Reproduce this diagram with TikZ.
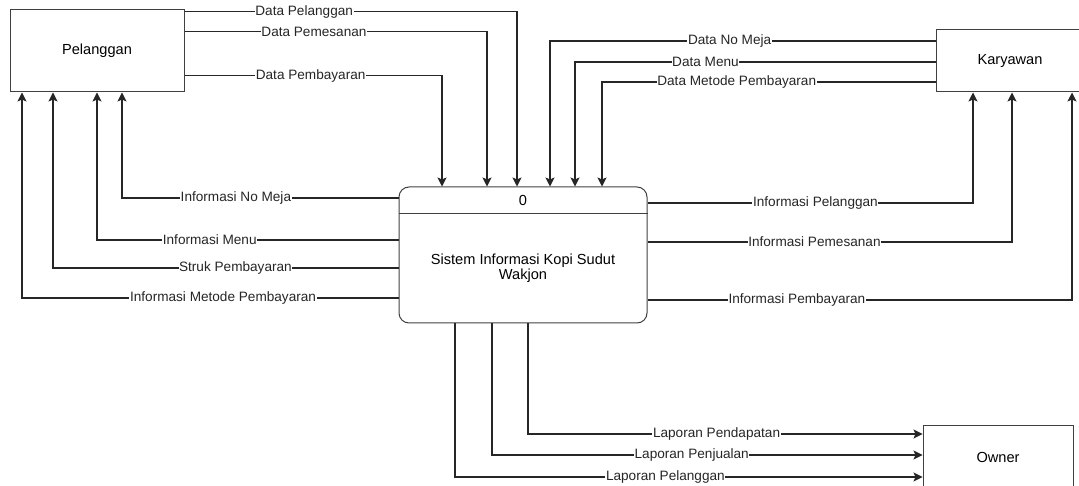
\documentclass[tikz,border=0pt]{standalone}
\usepackage{fontspec}
\setmainfont{Liberation Sans}
\usetikzlibrary{arrows.meta, positioning}

\begin{document}
\begin{tikzpicture}[
            x=1pt, y=-1pt,
            entity/.style={draw=black!75, line width=1pt, rectangle,
                           font=\fontsize{14.6}{16}\selectfont, inner sep=0pt},
            procbox/.style={draw=black!75, line width=1pt, rounded corners=10pt,
                            minimum width=248pt, minimum height=136pt, inner sep=0pt},
            ptext/.style={font=\fontsize{14.6}{14.5}\selectfont, align=center, inner sep=0pt},
            arr/.style={-{Stealth[length=9pt, width=9pt, inset=2pt]}, line width=1.1pt, black!85},
            lbl/.style={font=\fontsize{13.6}{15}\selectfont, fill=white, inner sep=0.6pt}]

            \useasboundingbox (0,0) rectangle (1079,486);
            \clip (0,0) rectangle (1079,486);

            %% ── Nodes ─────────────────────────────────────────────────────
            \node[entity, minimum width=174pt, minimum height=82pt] (pel) at (97,51)   {Pelanggan};
            \node[entity, minimum width=148pt, minimum height=62pt] (kar) at (1010,61) {Karyawan};
            \node[entity, minimum width=150pt, minimum height=64pt] (own) at (998,457) {Owner};

            \node[procbox] (proc) at (523,255) {};
            \draw[draw=black!75, line width=1pt]
                ([yshift=-27pt]proc.north west) -- ([yshift=-27pt]proc.north east);
            \node[ptext] (pnum)  at ([yshift=-14pt]proc.north) {0};
            \node[ptext] (pname) at ([yshift=-13pt]proc.center)
                {Sistem Informasi Kopi Sudut\\Wakjon};

            %% ── Pelanggan -> Sistem ───────────────────────────────────────
            \draw[arr] ([yshift=-2pt]pel.north east) -|
                node[lbl, pos=0.18]{Data Pelanggan}  ([xshift=-6pt]proc.north);
            \draw[arr] ([yshift=-22pt]pel.north east) -|
                node[lbl, pos=0.214]{Data Pemesanan} ([xshift=-36pt]proc.north);
            \draw[arr] ([yshift=-66pt]pel.north east) -|
                node[lbl, pos=0.245]{Data Pembayaran} ([xshift=-81pt]proc.north);

            %% ── Karyawan -> Sistem ────────────────────────────────────────
            \draw[arr] ([yshift=20pt]kar.west) -|
                node[lbl, pos=0.267]{Data No Meja} ([xshift=27pt]proc.north);
            \draw[arr] ([yshift=-1pt]kar.west) -|
                node[lbl, pos=0.319]{Data Menu}    ([xshift=52pt]proc.north);
            \draw[arr] ([yshift=-21pt]kar.west) -|
                node[lbl, pos=0.298]{Data Metode Pembayaran} ([xshift=79pt]proc.north);

            %% ── Sistem -> Pelanggan ───────────────────────────────────────
            \draw[arr] ([yshift=57pt]proc.west) -|
                node[lbl, pos=0.294]{Informasi No Meja} ([xshift=25pt]pel.south);
            \draw[arr] ([yshift=15pt]proc.west) -|
                node[lbl, pos=0.313]{Informasi Menu}    (pel.south);
            \draw[arr] ([yshift=-13pt]proc.west) -|
                node[lbl, pos=0.236]{Struk Pembayaran}  ([xshift=-44pt]pel.south);
            \draw[arr] ([yshift=-43pt]proc.west) -|
                node[lbl, pos=0.233]{Informasi Metode Pembayaran} ([xshift=-75pt]pel.south);

            %% ── Sistem -> Karyawan ────────────────────────────────────────
            \draw[arr] ([yshift=52pt]proc.east) -|
                node[lbl, pos=0.258]{Informasi Pelanggan} ([xshift=-37pt]kar.south);
            \draw[arr] ([yshift=13pt]proc.east) -|
                node[lbl, pos=0.229]{Informasi Pemesanan} ([xshift=2pt]kar.south);
            \draw[arr] ([yshift=-45pt]proc.east) -|
                node[lbl, pos=0.176]{Informasi Pembayaran} ([xshift=62pt]kar.south);

            %% ── Sistem -> Owner ───────────────────────────────────────────
            \draw[arr] ([xshift=5pt]proc.south) |-
                node[lbl, pos=0.739]{Laporan Pendapatan} ([yshift=23pt]own.west);
            \draw[arr] ([xshift=-31pt]proc.south) |-
                node[lbl, pos=0.732]{Laporan Penjualan}  ([yshift=2pt]own.west);
            \draw[arr] ([xshift=-68pt]proc.south) |-
                node[lbl, pos=0.725]{Laporan Pelanggan}  ([yshift=-20pt]own.west);

\end{tikzpicture}
\end{document}
